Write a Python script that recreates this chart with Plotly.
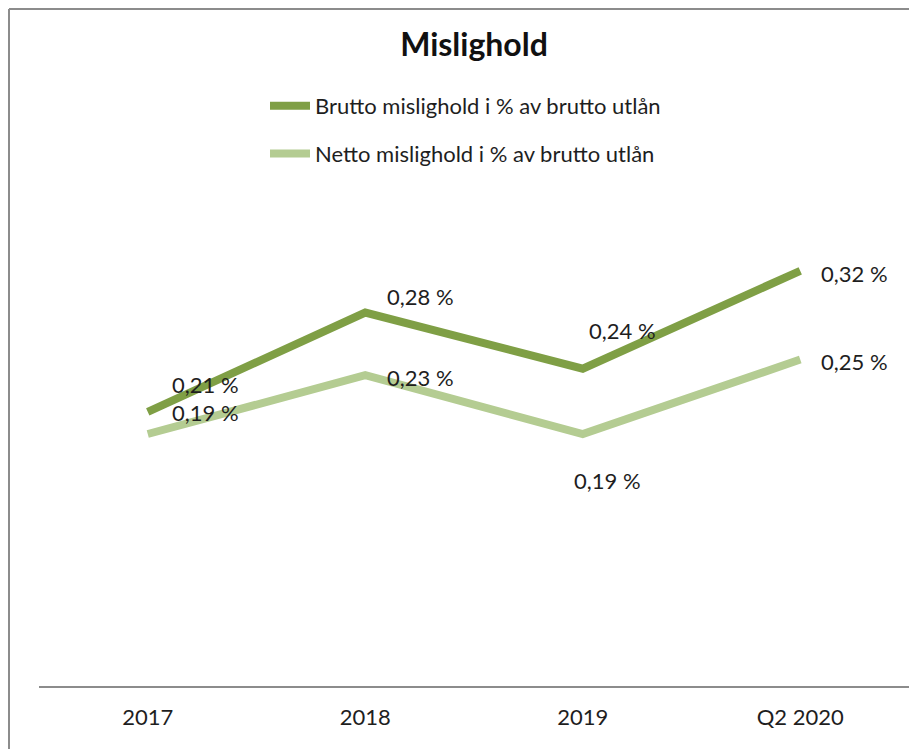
import plotly.graph_objects as go

categories = ["2017", "2018", "2019", "Q2 2020"]
brutto = [0.210, 0.286, 0.243, 0.318]
netto = [0.193, 0.238, 0.193, 0.250]
brutto_labels = ["0,21 %", "0,28 %", "0,24 %", "0,32 %"]
netto_labels = ["0,19 %", "0,23 %", "0,19 %", "0,25 %"]
series_names = ["Brutto mislighold i % av brutto utlån", "Netto mislighold i % av brutto utlån"]

# label offsets (pixels) relative to each point
brutto_shift = [(58, 27), (55, 16), (40, 38), (54, -3)]
netto_shift = [(58, 22), (55, -2), (25, -46), (54, -2)]

FONT = "Lato, 'Open Sans', sans-serif"
TXT = "#1e1e1e"
C_B = "#7f9f45"
C_N = "#b4cc92"

# plot-area geometry (figure pixels; page body adds 8px offset)
W, H = 917, 749
L, R, T, B = 31, 16, 221, 71
PW, PH = W - L - R, H - T - B

fig = go.Figure()
fig.add_trace(go.Scatter(x=categories, y=brutto, mode="lines", name=series_names[0],
                         line=dict(color=C_B, width=8), legendgroup="b",
                         hoverinfo="skip"))
fig.add_trace(go.Scatter(x=categories, y=netto, mode="lines", name=series_names[1],
                         line=dict(color=C_N, width=8), legendgroup="n",
                         hoverinfo="skip"))

ann = []
for i, (v, lab, (dx, dy)) in enumerate(zip(brutto, brutto_labels, brutto_shift)):
    ann.append(dict(x=i, y=v, xref="x", yref="y", text=lab, showarrow=False,
                    xshift=dx, yshift=dy, xanchor="center", yanchor="middle",
                    font=dict(family=FONT, size=22, color=TXT)))
for i, (v, lab, (dx, dy)) in enumerate(zip(netto, netto_labels, netto_shift)):
    ann.append(dict(x=i, y=v, xref="x", yref="y", text=lab, showarrow=False,
                    xshift=dx, yshift=dy, xanchor="center", yanchor="middle",
                    font=dict(family=FONT, size=22, color=TXT)))

fig.update_layout(
    width=W, height=H,
    margin=dict(l=L, r=R, t=T, b=B),
    paper_bgcolor="white", plot_bgcolor="white",
    font=dict(family=FONT, size=22, color=TXT),
    title=dict(text="<b>Mislighold</b>", x=0.5, xref="paper", xanchor="center",
               y=1 - 37 / H, yanchor="middle",
               font=dict(family=FONT, size=32, color="#111")),
    showlegend=True,
    legend=dict(x=(257 - L) / PW, xanchor="left", y=(H - B - 77) / PH, yanchor="top",
                yref="paper",
                font=dict(family=FONT, size=22, color=TXT),
                tracegroupgap=16, bgcolor="rgba(0,0,0,0)", itemwidth=40),
    xaxis=dict(type="category", range=[-0.5, 3.5], showgrid=False, zeroline=False,
               showline=True, linecolor="#8c8c8c", linewidth=2, ticks="",
               ticklabelstandoff=11,
               tickfont=dict(family=FONT, size=22, color=TXT), fixedrange=True),
    yaxis=dict(range=[0, 0.35], visible=False, fixedrange=True),
    annotations=ann,
)

# chart-area border (left and top edges visible in the crop)
bx = (1 - L) / PW
by_top = (H - B - 1) / PH
fig.add_shape(type="line", xref="paper", yref="paper",
              x0=bx, x1=bx, y0=-B / PH, y1=by_top,
              line=dict(color="#8c8c8c", width=2))
fig.add_shape(type="line", xref="paper", yref="paper",
              x0=bx, x1=(W - L) / PW, y0=by_top, y1=by_top,
              line=dict(color="#8c8c8c", width=2))

fig.write_html("out.html")
